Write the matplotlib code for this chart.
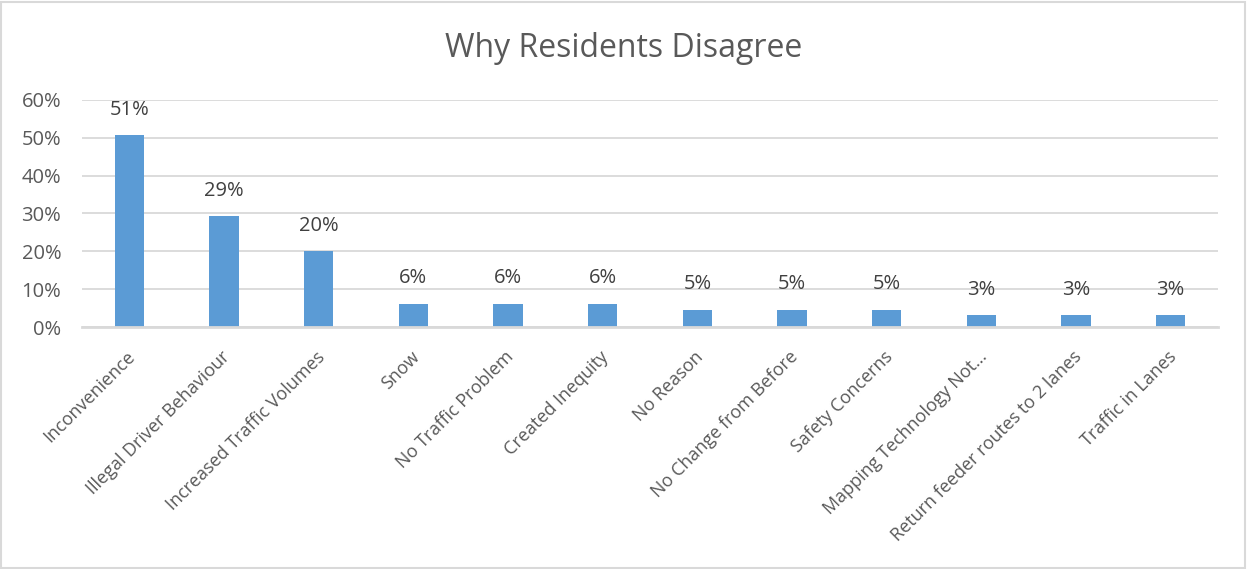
import matplotlib
matplotlib.use("Agg")
import matplotlib.pyplot as plt
import matplotlib.transforms as mtransforms
from matplotlib.patches import Rectangle
from matplotlib.ticker import PercentFormatter

# data
categories = ['Inconvenience', 'Illegal Driver Behaviour', 'Increased Traffic Volumes',
              'Snow', 'No Traffic Problem', 'Created Inequity', 'No Reason',
              'No Change from Before', 'Safety Concerns', 'Mapping Technology Not…',
              'Return feeder routes to 2 lanes', 'Traffic in Lanes']
shares = [0.508, 0.293, 0.200, 0.062, 0.062, 0.062, 0.046, 0.046, 0.046, 0.031, 0.031, 0.031]
share_labels = ['51%', '29%', '20%', '6%', '6%', '6%', '5%', '5%', '5%', '3%', '3%', '3%']
yticks = [0, 0.1, 0.2, 0.3, 0.4, 0.5, 0.6]

plt.rcParams['font.family'] = ['Open Sans', 'DejaVu Sans']
txt = '#595959'
grid = '#D9D9D9'
bar_col = '#5B9BD5'

fig = plt.figure(figsize=(12.47, 5.69), dpi=100)
fig.patches.append(Rectangle((0.001, 0.002), 0.997, 0.995, transform=fig.transFigure,
                             fill=False, edgecolor=grid, linewidth=1.5))
ax = fig.add_axes([0.0658, 0.4253, 0.9109, 0.399])

x = list(range(len(categories)))
ax.bar(x, shares, width=0.31, color=bar_col, zorder=3)
for xi, v, lab in zip(x, shares, share_labels):
  ax.annotate(lab, (xi, v), xytext=(0, 11), textcoords='offset points',
              ha='center', va='bottom', fontsize=14.5, color='#404040')

ax.set_xlim(-0.5, len(categories) - 0.5)
ax.set_ylim(0, 0.6)
ax.set_yticks(yticks)
ax.yaxis.set_major_formatter(PercentFormatter(1.0, decimals=0))
ax.grid(axis='y', color=grid, linewidth=1.3, zorder=0)
for s in ['top', 'right', 'left']:
  ax.spines[s].set_visible(False)
ax.spines['bottom'].set_color(grid)
ax.spines['bottom'].set_linewidth(2)
ax.spines['bottom'].set_zorder(4)
ax.tick_params(axis='y', length=0, pad=15, labelsize=14.5, labelcolor=txt)
ax.tick_params(axis='x', length=0, pad=15, labelsize=13, labelcolor=txt)
ax.set_xticks(x)
ax.set_xticklabels(categories, rotation=45, ha='right', rotation_mode='anchor')
shift = mtransforms.ScaledTranslation(-3 / 100, 0, fig.dpi_scale_trans)
for t in ax.get_xticklabels():
  t.set_transform(t.get_transform() + shift)

fig.text(0.5, 0.915, 'Why Residents Disagree', ha='center', va='center',
         fontsize=23, color=txt)

plt.savefig('out.png', dpi=100)
